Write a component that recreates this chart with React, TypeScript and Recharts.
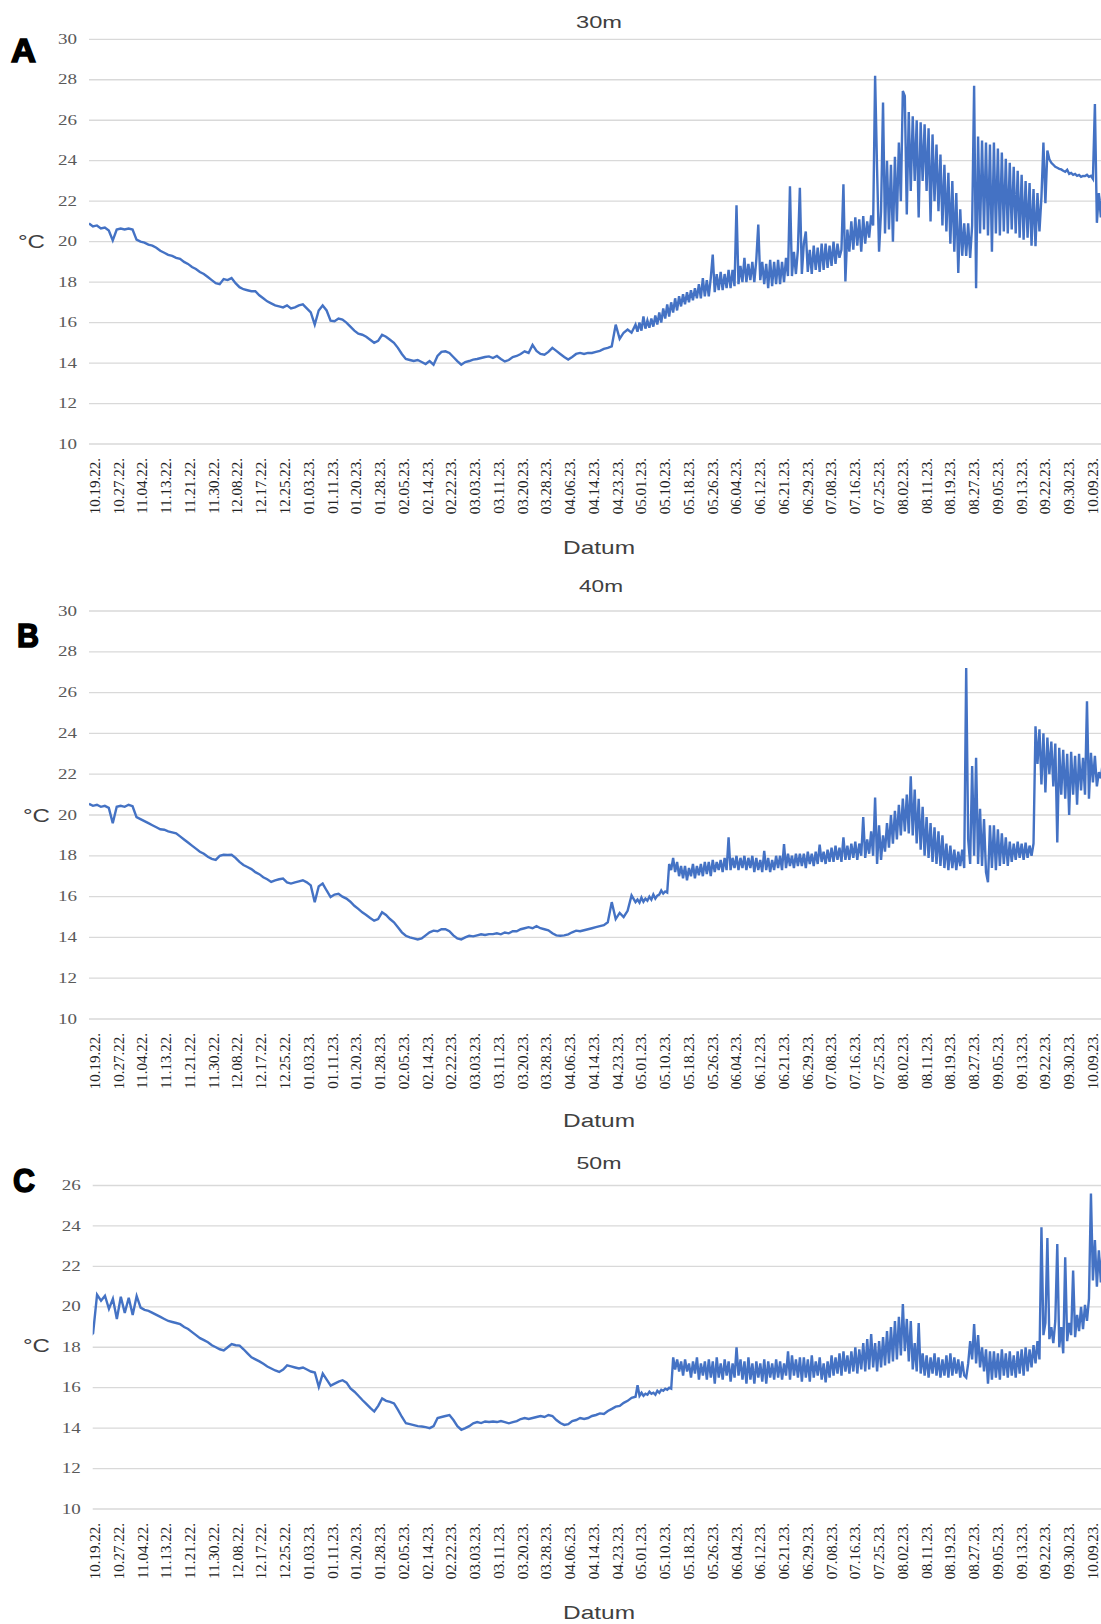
import { CartesianGrid, Line, LineChart, XAxis, YAxis } from "recharts";

const LINE = "#4472C4";
const GRID = "#d9d9d9";
const X_START = -0.25;
const X_END = 42.34;
// readings per date-label step: coarse for the calm winter part, fine for the noisy summer part
const EARLY_STEPS = 6;
const LATE_STEPS = 12;

const DATE_LABELS = [
  "10.19.22.", "10.27.22.", "11.04.22.", "11.13.22.", "11.21.22.", "11.30.22.", "12.08.22.",
  "12.17.22.", "12.25.22.", "01.03.23.", "01.11.23.", "01.20.23.", "01.28.23.", "02.05.23.",
  "02.14.23.", "02.22.23.", "03.03.23.", "03.11.23.", "03.20.23.", "03.28.23.", "04.06.23.",
  "04.14.23.", "04.23.23.", "05.01.23.", "05.10.23.", "05.18.23.", "05.26.23.", "06.04.23.",
  "06.12.23.", "06.21.23.", "06.29.23.", "07.08.23.", "07.16.23.", "07.25.23.", "08.02.23.",
  "08.11.23.", "08.19.23.", "08.27.23.", "09.05.23.", "09.13.23.", "09.22.23.", "09.30.23.",
  "10.09.23.",
];
const LABEL_TICKS = DATE_LABELS.map((_, i) => i);

const Y_TICKS_30 = [10, 12, 14, 16, 18, 20, 22, 24, 26, 28, 30];
const Y_TICKS_26 = [10, 12, 14, 16, 18, 20, 22, 24, 26];

// 30m: 10.19.22 .. 04.23.23, one row per label
const TEMP_30M_EARLY = [
  20.9, 20.75, 20.8, 20.65, 20.7, 20.55,
  20.06, 20.6, 20.65, 20.6, 20.65, 20.6,
  20.1, 20.0, 19.95, 19.85, 19.8, 19.7,
  19.55, 19.45, 19.35, 19.3, 19.2, 19.15,
  19.0, 18.9, 18.75, 18.65, 18.5, 18.4,
  18.25, 18.1, 17.95, 17.9, 18.15, 18.1,
  18.2, 17.95, 17.75, 17.65, 17.6, 17.55,
  17.55, 17.35, 17.2, 17.05, 16.95, 16.85,
  16.8, 16.75, 16.85, 16.7, 16.75, 16.85,
  16.9, 16.7, 16.5, 15.9, 16.6, 16.85,
  16.6, 16.1, 16.07, 16.2, 16.15, 16.0,
  15.8, 15.6, 15.45, 15.4, 15.3, 15.15,
  15.0, 15.1, 15.4, 15.3, 15.15, 15.0,
  14.75, 14.45, 14.2, 14.15, 14.1, 14.15,
  14.05, 13.95, 14.1, 13.92, 14.35, 14.55,
  14.58, 14.5, 14.3, 14.1, 13.92, 14.05,
  14.1, 14.17, 14.2, 14.25, 14.3, 14.33,
  14.25, 14.35, 14.2, 14.08, 14.15, 14.3,
  14.35, 14.45, 14.58, 14.5, 14.9, 14.6,
  14.45, 14.41, 14.55, 14.75, 14.6, 14.45,
  14.3, 14.17, 14.3, 14.45, 14.5, 14.45,
  14.5, 14.5, 14.55, 14.6, 14.7, 14.75,
  14.83, 15.9, 15.2, 15.5, 15.66, 15.5,
];

// 30m: 05.01.23 .. end
const TEMP_30M_LATE = [
  15.9, 15.55, 16.0, 15.6, 16.3, 15.7, 16.1, 15.75, 16.2, 15.8, 16.35, 15.9,
  16.5, 16.0, 16.7, 16.2, 16.9, 16.3, 17.0, 16.5, 17.2, 16.6, 17.3, 16.8,
  17.4, 16.9, 17.5, 17.0, 17.6, 17.1, 17.7, 17.2, 17.9, 17.2, 18.2, 17.3,
  18.1, 17.3, 18.2, 19.36, 17.5, 18.4, 17.6, 18.5, 17.6, 18.4, 17.7, 18.6,
  17.7, 18.6, 17.8, 21.8, 17.9, 18.8, 18.0, 19.2, 18.0, 18.9, 18.1, 19.0,
  18.0, 19.1, 20.84, 18.1, 19.0, 17.9, 18.9, 17.7, 19.1, 17.8, 19.0, 17.9,
  19.1, 17.9, 19.0, 18.0, 19.2, 18.3, 22.74, 18.3, 19.5, 18.4, 19.6, 22.66,
  18.4, 19.9, 20.5, 18.5, 19.6, 18.4, 19.8, 18.6, 19.7, 18.5, 19.9, 18.6,
  19.9, 18.7, 19.8, 18.8, 20.0, 18.9, 19.9, 19.2, 19.6, 22.83, 18.03, 20.6,
  19.5, 21.0, 19.6, 21.2, 19.8, 21.1, 19.5, 21.26, 19.9, 21.0, 20.2, 21.3,
  20.8, 28.2, 23.57, 19.5, 21.5, 26.88, 20.4, 24.0, 20.6, 23.8, 20.0, 24.2,
  21.0, 24.9, 22.0, 27.45, 27.2, 21.34, 26.4, 22.5, 26.2, 23.0, 26.0, 21.2,
  25.9, 23.0, 25.8, 22.5, 25.6, 21.0, 25.3, 22.0, 24.8, 21.5, 24.3, 20.8,
  23.8, 20.5, 23.4, 19.9, 23.0, 19.5, 22.4, 18.45, 21.6, 19.3, 20.9, 19.3,
  20.9, 19.2, 20.8, 27.7, 17.7, 25.2, 20.4, 25.0, 20.6, 24.9, 20.3, 24.8,
  19.5, 24.9, 20.4, 24.6, 20.3, 24.4, 20.5, 24.1, 20.4, 23.9, 20.6, 23.7,
  20.4, 23.5, 20.2, 23.3, 20.1, 23.0, 20.2, 22.9, 19.8, 22.6, 19.77, 22.4,
  20.5, 22.2, 24.9, 21.9, 24.5, 24.07, 23.9, 23.8, 23.7, 23.65, 23.6, 23.57,
  23.5, 23.45, 23.55, 23.35, 23.4, 23.3, 23.35, 23.25, 23.3, 23.2, 23.25, 23.24,
  23.3, 23.2, 23.25, 23.1, 26.8, 20.93, 22.4, 21.2, 22.8, 21.5, 22.6, 21.8,
];

const TEMP_40M_EARLY = [
  20.55, 20.45, 20.5, 20.4, 20.45, 20.35,
  19.6, 20.4, 20.45, 20.4, 20.5, 20.43,
  19.9, 19.8, 19.7, 19.6, 19.5, 19.4,
  19.3, 19.28, 19.2, 19.15, 19.1, 18.95,
  18.8, 18.65, 18.5, 18.35, 18.2, 18.1,
  17.95, 17.85, 17.8, 18.0, 18.05, 18.04,
  18.05, 17.9, 17.7, 17.55, 17.45, 17.35,
  17.2, 17.1, 16.95, 16.85, 16.72, 16.8,
  16.85, 16.88, 16.7, 16.64, 16.7, 16.75,
  16.8, 16.7, 16.55, 15.73, 16.5, 16.64,
  16.3, 15.98, 16.1, 16.14, 16.0, 15.9,
  15.75, 15.55, 15.4, 15.23, 15.1, 14.95,
  14.82, 14.9, 15.23, 15.1, 14.9, 14.74,
  14.5, 14.25, 14.08, 14.0, 13.95, 13.9,
  13.95, 14.1, 14.25, 14.33, 14.3, 14.4,
  14.4, 14.3, 14.1, 13.95, 13.9, 14.0,
  14.08, 14.05, 14.1, 14.15, 14.12, 14.16,
  14.16, 14.2, 14.15, 14.24, 14.2, 14.3,
  14.3, 14.4, 14.45, 14.5, 14.45, 14.55,
  14.45, 14.4, 14.35, 14.2, 14.1, 14.08,
  14.1, 14.15, 14.25, 14.33, 14.3, 14.35,
  14.4, 14.45, 14.5, 14.55, 14.6, 14.74,
  15.73, 14.9, 15.2, 15.0, 15.3, 16.06,
];

const TEMP_40M_LATE = [
  15.73, 15.85, 15.7, 15.95, 15.75, 15.9, 15.8, 16.0, 15.85, 16.1, 15.9, 16.05,
  16.1, 16.3, 16.15, 16.25, 16.2, 17.6, 17.3, 17.9, 17.2, 17.7, 17.0, 17.5,
  16.9, 17.5, 16.8, 17.4, 17.0, 17.6, 16.9, 17.5, 17.05, 17.6, 17.0, 17.7,
  17.1, 17.7, 17.0, 17.8, 17.2, 17.7, 17.3, 17.8, 17.2, 17.9, 17.3, 18.9,
  17.3, 17.9, 17.4, 18.0, 17.3, 17.9, 17.4, 18.0, 17.3, 17.9, 17.4, 18.0,
  17.2, 17.9, 17.3, 17.8, 17.2, 18.24, 17.3, 17.9, 17.2, 17.8, 17.3, 18.0,
  17.4, 18.0, 17.3, 18.57, 17.4, 18.1, 17.5, 18.0, 17.4, 18.1, 17.5, 18.1,
  17.5, 18.1, 17.4, 18.2, 17.6, 18.1, 17.5, 18.2, 17.6, 18.55, 17.7, 18.2,
  17.6, 18.3, 17.7, 18.4, 17.7, 18.5, 17.8, 18.4, 17.7, 18.9, 17.8, 18.5,
  17.8, 18.6, 17.9, 18.7, 17.8, 18.6, 18.0, 19.9, 17.9, 18.8, 18.1, 19.2,
  18.0, 20.85, 17.6, 19.5, 17.8, 19.0, 18.2, 19.6, 18.4, 20.0, 18.6, 20.2,
  18.8, 20.5, 19.0, 20.8, 19.2, 21.0, 19.1, 21.9, 19.0, 21.25, 18.6, 20.8,
  18.3, 20.4, 18.0, 19.9, 17.9, 19.6, 17.7, 19.4, 17.6, 19.2, 17.5, 19.0,
  17.4, 18.6, 17.3, 18.5, 17.4, 18.3, 17.3, 18.2, 17.5, 18.3, 17.4, 27.2,
  18.8, 17.6, 22.4, 18.0, 22.8, 17.6, 20.3, 17.5, 19.8, 17.2, 16.7, 19.5,
  17.4, 19.5, 17.3, 19.3, 17.5, 19.1, 17.6, 18.9, 17.5, 18.7, 17.7, 18.6,
  17.8, 18.7, 17.9, 18.6, 17.8, 18.65, 17.9, 18.5, 18.0, 18.6, 24.35, 22.5,
  24.2, 21.5, 24.0, 21.1, 23.8, 22.0, 23.6, 21.4, 23.5, 18.65, 23.3, 21.0,
  23.2, 20.8, 23.0, 20.0, 23.1, 21.0, 22.9, 20.5, 23.0, 21.2, 22.8, 21.0,
  25.57, 20.8, 23.05, 21.6, 22.9, 21.4, 22.1, 21.8, 22.6, 21.5, 22.3, 21.7,
];

const TEMP_50M_EARLY = [
  18.5, 18.7, 20.6, 20.3, 20.55, 19.9,
  20.4, 19.4, 20.5, 19.7, 20.45, 19.6,
  20.53, 19.96, 19.85, 19.8, 19.7, 19.6,
  19.5, 19.4, 19.3, 19.25, 19.2, 19.14,
  19.0, 18.9, 18.75, 18.6, 18.45, 18.35,
  18.25, 18.1, 18.0, 17.9, 17.84, 18.0,
  18.16, 18.1, 18.08, 17.9, 17.7, 17.5,
  17.4, 17.3, 17.18, 17.05, 16.95, 16.85,
  16.78, 16.9, 17.1, 17.05, 17.0, 16.95,
  17.0, 16.9, 16.8, 16.75, 16.04, 16.7,
  16.4, 16.1, 16.2, 16.3, 16.37, 16.25,
  15.96, 15.8, 15.6, 15.39, 15.2, 15.0,
  14.82, 15.1, 15.47, 15.35, 15.3, 15.22,
  14.9, 14.55, 14.24, 14.2, 14.15, 14.1,
  14.08, 14.05, 14.0, 14.1, 14.5, 14.55,
  14.6, 14.65, 14.4, 14.1, 13.92, 14.0,
  14.1, 14.24, 14.3, 14.25, 14.33, 14.3,
  14.33, 14.3, 14.35, 14.3, 14.24, 14.3,
  14.35, 14.45, 14.5, 14.45, 14.5, 14.55,
  14.6, 14.55, 14.65, 14.6, 14.4, 14.25,
  14.16, 14.2, 14.35, 14.4, 14.5, 14.45,
  14.5, 14.6, 14.65, 14.73, 14.7, 14.85,
  14.95, 15.06, 15.1, 15.25, 15.35, 15.5,
];

const TEMP_50M_LATE = [
  15.55, 16.12, 15.6, 15.75, 15.6, 15.7, 15.65, 15.8, 15.7, 15.75, 15.65, 15.85,
  15.75, 15.9, 15.85, 15.95, 15.9, 16.0, 15.95, 17.5, 16.9, 17.4, 16.8, 17.3,
  16.6, 17.4, 16.8, 17.2, 16.5, 17.3, 16.7, 17.5, 16.4, 17.2, 16.6, 17.3,
  16.4, 17.4, 16.5, 17.3, 16.2, 17.5, 16.5, 17.2, 16.4, 17.4, 16.6, 17.3,
  16.3, 17.2, 16.5, 18.0, 16.6, 17.4, 16.4, 17.3, 16.2, 17.5, 16.4, 17.2,
  16.2, 17.3, 16.5, 17.2, 16.3, 17.4, 16.2, 17.3, 16.5, 17.2, 16.4, 17.4,
  16.5, 17.3, 16.4, 17.2, 16.6, 17.8, 16.4, 17.6, 16.6, 17.4, 16.5, 17.5,
  16.3, 17.5, 16.5, 17.4, 16.3, 17.6, 16.5, 17.3, 16.6, 17.5, 16.4, 17.2,
  16.26, 17.3, 16.5, 17.6, 16.6, 17.5, 16.7, 17.7, 16.6, 17.8, 16.8, 17.6,
  16.7, 17.8, 16.8, 18.0, 16.7, 17.9, 16.9, 18.2, 16.8, 18.4, 16.9, 18.65,
  17.0, 18.2, 16.8, 18.3, 17.0, 18.5, 17.1, 18.8, 17.2, 19.0, 17.3, 19.3,
  17.4, 19.5, 17.6, 20.14, 17.8, 19.4, 17.3, 19.3, 16.9, 18.2, 16.8, 19.2,
  16.7, 17.7, 16.6, 17.6, 16.5, 17.5, 16.7, 17.7, 16.6, 17.5, 16.5, 17.4,
  16.6, 17.6, 16.5, 17.7, 16.6, 17.5, 16.7, 17.4, 16.5, 17.3, 16.6, 16.5,
  17.2, 18.3, 17.4, 19.15, 17.2, 18.6, 17.0, 18.0, 16.8, 17.9, 16.2, 17.8,
  16.4, 17.8, 16.5, 17.7, 16.4, 17.9, 16.6, 17.7, 16.5, 17.8, 16.6, 17.6,
  16.5, 17.8, 16.7, 17.9, 16.6, 18.0, 16.8, 17.9, 17.0, 18.1, 17.2, 18.3,
  17.4, 23.94, 18.6, 19.2, 23.4, 18.4, 19.0, 18.2, 19.3, 23.1, 18.0, 19.0,
  17.7, 22.45, 18.3, 19.2, 18.6, 21.8, 18.5, 19.6, 18.8, 20.0, 18.9, 20.1,
  19.3, 20.4, 25.6, 21.3, 23.3, 21.0, 22.8, 21.2, 23.1, 21.5, 22.5, 21.8,
];

function toPoints(early: number[], late: number[]) {
  const first = early.map((t, i) => ({ x: X_START + i / EARLY_STEPS, t }));
  const lateStart = X_START + early.length / EARLY_STEPS;
  const second = late.map((t, i) => ({ x: lateStart + i / LATE_STEPS, t }));
  return [...first, ...second];
}

function DateTick({ x, y, payload }: any) {
  return (
    <text
      transform={`translate(${x},${y + 14}) rotate(-90)`}
      dy="0.33em"
      textAnchor="end"
      fontFamily="'Liberation Serif', serif"
      fontSize={15}
      fill="#222"
    >
      {DATE_LABELS[payload.value]}
    </text>
  );
}

function TempTick({ x, y, payload }: any) {
  return (
    <text
      x={x - 12}
      y={y}
      dy="0.33em"
      textAnchor="end"
      fontFamily="'Liberation Serif', serif"
      fontSize={14}
      fill="#595959"
      textLength={19}
      lengthAdjust="spacingAndGlyphs"
    >
      {payload.value}
    </text>
  );
}

type PanelProps = {
  top: number;
  height: number;
  plotTop: number;
  plotBottom: number;
  plotLeft: number;
  xMin: number;
  yMax: number;
  yTicks: number[];
  early: number[];
  late: number[];
};

function DepthPanel({ top, height, plotTop, plotBottom, plotLeft, xMin, yMax, yTicks, early, late }: PanelProps) {
  const data = toPoints(early, late);
  return (
    <div style={{ position: "absolute", left: 0, top, width: 1101, height }}>
      <LineChart
        width={1101}
        height={height}
        data={data}
        margin={{ top: plotTop - top, right: 0, bottom: 0, left: 0 }}
      >
        <CartesianGrid stroke={GRID} strokeWidth={1.3} vertical={false} />
        <XAxis
          dataKey="x"
          type="number"
          domain={[xMin, X_END]}
          allowDataOverflow
          ticks={LABEL_TICKS}
          interval={0}
          height={height - (plotBottom - top)}
          tickLine={false}
          axisLine={false}
          tickSize={0}
          tickMargin={0}
          tick={<DateTick />}
        />
        <YAxis
          type="number"
          domain={[10, yMax]}
          ticks={yTicks}
          interval={0}
          width={plotLeft}
          tickLine={false}
          axisLine={false}
          tickSize={0}
          tickMargin={0}
          tick={<TempTick />}
        />
        <Line
          type="linear"
          dataKey="t"
          stroke={LINE}
          strokeWidth={2.4}
          dot={false}
          activeDot={false}
          isAnimationActive={false}
        />
      </LineChart>
    </div>
  );
}

const SANS = "'Liberation Sans', Arial, sans-serif";

function Annotations() {
  const title = (label: string, cx: number, y: number, w: number) => (
    <text x={cx - w / 2} y={y} fontFamily={SANS} fontSize={17} fill="#404040" textLength={w} lengthAdjust="spacingAndGlyphs">
      {label}
    </text>
  );
  const datum = (y: number) => (
    <text x={599 - 36} y={y} fontFamily={SANS} fontSize={19} fill="#404040" textLength={72} lengthAdjust="spacingAndGlyphs">
      Datum
    </text>
  );
  const unit = (x: number, y: number) => (
    <text x={x} y={y} fontFamily={SANS} fontSize={19} fill="#404040" textLength={27} lengthAdjust="spacingAndGlyphs">
      °C
    </text>
  );
  const letter = (label: string, x: number, y: number, w: number) => (
    <text
      x={x}
      y={y}
      fontFamily={SANS}
      fontWeight="bold"
      fontSize={34}
      fill="#000"
      stroke="#000"
      strokeWidth={1.6}
      textLength={w}
      lengthAdjust="spacingAndGlyphs"
    >
      {label}
    </text>
  );
  return (
    <svg width={1101} height={1624} style={{ position: "absolute", left: 0, top: 0, pointerEvents: "none" }}>
      {letter("A", 11, 62, 25)}
      {letter("B", 17, 647, 22)}
      {letter("C", 13, 1192, 22)}
      {title("30m", 599, 28, 46)}
      {title("40m", 601, 592, 44)}
      {title("50m", 599, 1169, 45)}
      {unit(18, 248)}
      {unit(23, 822)}
      {unit(23, 1352)}
      {datum(554)}
      {datum(1127)}
      {datum(1619)}
    </svg>
  );
}

export default function App() {
  return (
    <div style={{ position: "absolute", left: 0, top: 0, width: 1101, height: 1624, overflow: "hidden", background: "#fff" }}>
      <DepthPanel top={0} height={530} plotTop={39.3} plotBottom={444} plotLeft={89} xMin={-0.25} yMax={30} yTicks={Y_TICKS_30} early={TEMP_30M_EARLY} late={TEMP_30M_LATE} />
      <DepthPanel top={560} height={545} plotTop={611} plotBottom={1019} plotLeft={89} xMin={-0.25} yMax={30} yTicks={Y_TICKS_30} early={TEMP_40M_EARLY} late={TEMP_40M_LATE} />
      <DepthPanel top={1130} height={470} plotTop={1185.5} plotBottom={1509} plotLeft={92.7} xMin={-0.1} yMax={26} yTicks={Y_TICKS_26} early={TEMP_50M_EARLY} late={TEMP_50M_LATE} />
      <Annotations />
    </div>
  );
}
